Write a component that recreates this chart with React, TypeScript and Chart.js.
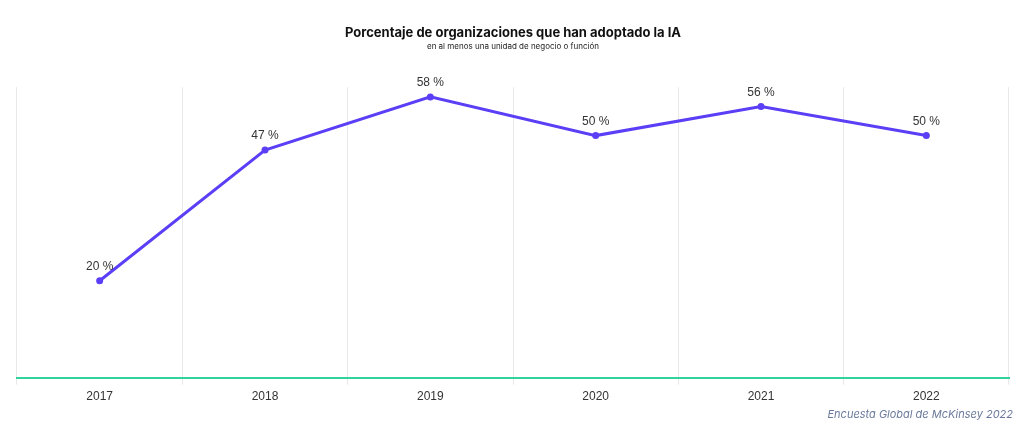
import React, { useEffect, useRef } from "react";
import { Chart, registerables } from "chart.js";

Chart.register(...registerables);

const years = ["2017", "2018", "2019", "2020", "2021", "2022"];
const adoption = [20, 47, 58, 50, 56, 50];
const titleText = "Porcentaje de organizaciones que han adoptado la IA";
const subtitleText = "en al menos una unidad de negocio o función";
const sourceText = "Encuesta Global de McKinsey 2022";

const LINE_COLOR = "#5b3ff6";

const pointLabels = {
  id: "pointLabels",
  afterDatasetsDraw(chart: any) {
    const ctx = chart.ctx;
    const meta = chart.getDatasetMeta(0);
    ctx.save();
    ctx.font = "12px 'Liberation Sans', Arial, sans-serif";
    ctx.fillStyle = "#333333";
    ctx.textAlign = "center";
    ctx.textBaseline = "middle";
    meta.data.forEach((pt: any, i: number) => {
      ctx.fillText(`${adoption[i]} %`, pt.x, pt.y - 14);
    });
    ctx.restore();
  },
};

export default function App() {
  const ref = useRef<HTMLCanvasElement | null>(null);
  useEffect(() => {
    if (!ref.current) return;
    const chart = new Chart(ref.current, {
      type: "line",
      data: {
        labels: years,
        datasets: [
          {
            data: adoption,
            borderColor: LINE_COLOR,
            backgroundColor: LINE_COLOR,
            borderWidth: 3,
            pointRadius: 3.5,
            pointHoverRadius: 3.5,
            pointBackgroundColor: LINE_COLOR,
            pointBorderWidth: 0,
            tension: 0,
          },
        ],
      },
      options: {
        animation: false,
        responsive: true,
        maintainAspectRatio: false,
        layout: { padding: { left: 17, right: 15, top: 0, bottom: 18 } },
        plugins: {
          legend: { display: false },
          tooltip: { enabled: false },
          title: {
            display: true,
            text: titleText,
            color: "#111111",
            font: { family: "Inter", size: 13, weight: "bold" },
            padding: { top: 25, bottom: 1 },
          },
          subtitle: {
            display: true,
            text: subtitleText,
            color: "#222222",
            font: { family: "Inter", size: 8 },
            padding: { top: 0, bottom: 36 },
          },
        },
        scales: {
          x: {
            offset: true,
            grid: {
              display: true,
              offset: true,
              color: "#e8e8e8",
              lineWidth: 1,
              tickLength: 7,
              drawOnChartArea: true,
            },
            border: { display: true, color: "#2fd39e", width: 2 },
            ticks: {
              color: "#333333",
              font: { family: "'Liberation Sans', Arial, sans-serif", size: 12 },
              padding: 5,
            },
          },
          y: {
            display: false,
            min: 0,
            max: 60,
          },
        },
      },
      plugins: [pointLabels],
    });
    return () => chart.destroy();
  }, []);

  return (
    <div style={{ position: "fixed", left: 0, top: 0, width: 1024, height: 427, background: "#fff" }}>
      <canvas ref={ref} />
      <div
        style={{
          position: "absolute",
          right: 11,
          top: 407,
          fontFamily: "Inter, sans-serif",
          fontStyle: "italic",
          fontSize: 11,
          color: "#6b7a9c",
          whiteSpace: "nowrap",
        }}
      >
        {sourceText}
      </div>
    </div>
  );
}
